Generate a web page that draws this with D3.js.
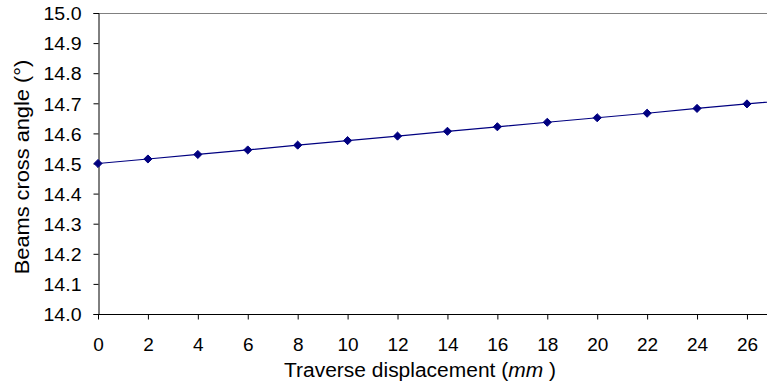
<!DOCTYPE html>
<html>
<head>
<meta charset="utf-8">
<script src="https://cdn.jsdelivr.net/npm/d3@7"></script>
<style>
  html, body { margin: 0; padding: 0; background: #fff; }
  svg { display: block; font-family: "Liberation Sans", Arial, sans-serif; }
</style>
</head>
<body>
<svg id="chart" width="767" height="387"></svg>
<script>
// Traverse displacement (mm) and beam cross angle (degrees)
const displacement = [0, 2, 4, 6, 8, 10, 12, 14, 16, 18, 20, 22, 24, 26, 28];
const crossAngle = [14.500, 14.515, 14.530, 14.545, 14.561, 14.576, 14.591, 14.607,
                    14.622, 14.637, 14.652, 14.667, 14.683, 14.698, 14.713];
const xTicks = [0, 2, 4, 6, 8, 10, 12, 14, 16, 18, 20, 22, 24, 26];
const yTicks = [14.0, 14.1, 14.2, 14.3, 14.4, 14.5, 14.6, 14.7, 14.8, 14.9, 15.0];

const svg = d3.select("#chart");
const plotLeft = 98, plotTop = 13, plotBottom = 314, plotRight = 767;

const x = d3.scaleLinear().domain([0, 28]).range([plotLeft, plotLeft + 28 * 24.96]);
const y = d3.scaleLinear().domain([14.0, 15.0]).range([plotBottom, plotTop]);

// clip region for the plotted series
svg.append("clipPath").attr("id", "plotClip")
  .append("rect").attr("x", plotLeft - 6).attr("y", plotTop - 6)
  .attr("width", plotRight - plotLeft + 6).attr("height", plotBottom - plotTop + 12);

// plot-area top border
svg.append("line")
  .attr("x1", plotLeft).attr("x2", plotRight).attr("y1", plotTop + 0.5).attr("y2", plotTop + 0.5)
  .attr("stroke", "#808080").attr("stroke-width", 1);

// y axis
const yAxis = svg.append("g")
  .attr("transform", `translate(${plotLeft + 0.5},0)`)
  .call(d3.axisLeft(y).tickValues(yTicks).tickFormat(d3.format(".1f")).tickSizeOuter(0).tickSize(5).tickPadding(12));
yAxis.select(".domain").attr("stroke", "#000");
yAxis.selectAll(".tick line").attr("stroke", "#000");
yAxis.selectAll(".tick text")
  .attr("fill", "#000").attr("font-size", "18.8px")
  .attr("font-family", "Liberation Sans, Arial, sans-serif")
  .attr("dy", "0.36em")
  .attr("transform", function() {
    const tx = +d3.select(this).attr("x");
    return `translate(${tx},0) scale(1.04,1) translate(${-tx},0)`;
  });

// x axis
const xAxis = svg.append("g")
  .attr("transform", `translate(0,${plotBottom + 0.5})`)
  .call(d3.axisBottom(x).tickValues(xTicks).tickFormat(d3.format("d")).tickSizeOuter(0).tickSize(5).tickPadding(18.5));
xAxis.select(".domain").attr("d", `M${plotLeft},0H${plotRight}`).attr("stroke", "#000");
xAxis.selectAll(".tick line").attr("stroke", "#000");
xAxis.selectAll(".tick text")
  .attr("fill", "#000").attr("font-size", "19px")
  .attr("font-family", "Liberation Sans, Arial, sans-serif");

// series line and markers
const plot = svg.append("g").attr("clip-path", "url(#plotClip)");
const line = d3.line().x((d, i) => x(displacement[i])).y(d => y(d));
plot.append("path")
  .datum(crossAngle)
  .attr("d", line)
  .attr("fill", "none")
  .attr("stroke", "#000080")
  .attr("stroke-width", 1.2);

const diamond = d3.symbol().type(d3.symbolDiamond2).size(42);
plot.selectAll("path.marker")
  .data(crossAngle)
  .join("path")
  .attr("class", "marker")
  .attr("d", diamond)
  .attr("transform", (d, i) => `translate(${x(displacement[i])},${y(d)})`)
  .attr("fill", "#000080")
  .attr("stroke", "#000080")
  .attr("stroke-width", 1);

// axis titles
const xTitle = svg.append("text")
  .attr("transform", "translate(420,377) scale(1.06,1)")
  .attr("text-anchor", "middle")
  .attr("font-size", "19.8px")
  .attr("fill", "#000");
xTitle.append("tspan").text("Traverse displacement (");
xTitle.append("tspan").attr("font-style", "italic").text("mm");
xTitle.append("tspan").text(" )");

svg.append("text")
  .attr("transform", "translate(29,167) rotate(-90) scale(1.1,1)")
  .attr("text-anchor", "middle")
  .attr("font-size", "19.8px")
  .attr("fill", "#000")
  .text("Beams cross angle (°)");
</script>
</body>
</html>
